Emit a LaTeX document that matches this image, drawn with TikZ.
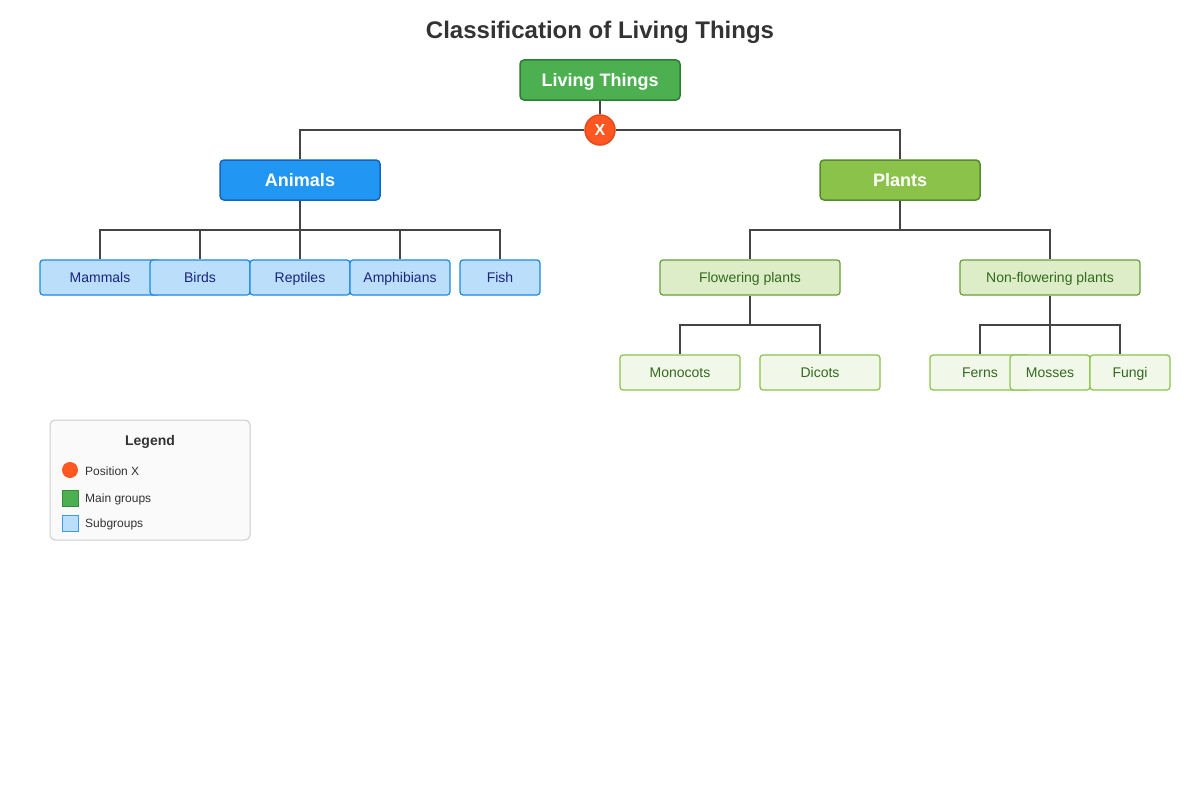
\documentclass[tikz,border=0pt]{standalone}
\usepackage{fontspec}
\setmainfont{Liberation Sans}
\definecolor{mainG}{HTML}{4CAF50}
\definecolor{mainGb}{HTML}{2E7D32}
\definecolor{anim}{HTML}{2196F3}
\definecolor{animb}{HTML}{1565C0}
\definecolor{plnt}{HTML}{8BC34A}
\definecolor{plntb}{HTML}{558B2F}
\definecolor{subB}{HTML}{BBDEFB}
\definecolor{subBb}{HTML}{1E88E5}
\definecolor{subBt}{HTML}{1A237E}
\definecolor{flw}{HTML}{DCEDC8}
\definecolor{flwb}{HTML}{689F38}
\definecolor{grt}{HTML}{33691E}
\definecolor{leaf}{HTML}{F1F8E9}
\definecolor{leafb}{HTML}{8BC34A}
\definecolor{xo}{HTML}{FF5722}
\definecolor{xob}{HTML}{E64A19}
\definecolor{conn}{HTML}{444444}
\definecolor{txt}{HTML}{333333}
\definecolor{legf}{HTML}{FAFAFA}
\definecolor{legb}{HTML}{CCCCCC}
\begin{document}
\begin{tikzpicture}[x=1pt,y=-1pt,
  box/.style={draw, rounded corners=4pt, line width=1.5pt, inner sep=0pt, minimum height=40pt, text height=12.9pt, text depth=0pt},
  rootbox/.style={box, fill=mainG, draw=mainGb, text=white, font=\fontsize{18}{22}\selectfont\bfseries, minimum width=160pt},
  animbox/.style={box, fill=anim, draw=animb, text=white, font=\fontsize{18}{22}\selectfont\bfseries, minimum width=160pt},
  plntbox/.style={box, fill=plnt, draw=plntb, text=white, font=\fontsize{18}{22}\selectfont\bfseries, minimum width=160pt},
  subbox/.style={draw, rounded corners=3pt, line width=1.2pt, inner sep=0pt, minimum height=35pt, font=\fontsize{14}{17}\selectfont, text height=10pt, text depth=0pt},
  animsub/.style={subbox, fill=subB, draw=subBb, text=subBt},
  flwsub/.style={subbox, fill=flw, draw=flwb, text=grt},
  leafsub/.style={subbox, fill=leaf, draw=leafb, text=grt},
  conn/.style={draw=conn, line width=1.5pt},
  legtext/.style={anchor=west, text=txt, font=\fontsize{12}{14}\selectfont, inner sep=0pt, text height=8.6pt, text depth=0pt}
]
\useasboundingbox (0,0) rectangle (1200,800);
\fill[white] (0,0) rectangle (1200,800);

\node[text=txt, font=\fontsize{24}{28}\selectfont\bfseries] (title) at (600,32) {Classification of Living Things};

\coordinate (ab) at (300,230);
\coordinate (pb) at (900,230);
\coordinate (fb) at (750,325);
\coordinate (nb) at (1050,325);

\node[rootbox] (root) at (600,80) {Living Things};
\node[animbox] (animals) at (300,180) {Animals};
\node[plntbox] (plants) at (900,180) {Plants};

\node[animsub, minimum width=120pt] (mammals) at (100,277.5) {Mammals};
\node[animsub, minimum width=100pt] (birds) at (200,277.5) {Birds};
\node[animsub, minimum width=100pt] (reptiles) at (300,277.5) {Reptiles};
\node[animsub, minimum width=100pt] (amph) at (400,277.5) {Amphibians};
\node[animsub, minimum width=80pt] (fish) at (500,277.5) {Fish};

\node[flwsub, minimum width=180pt] (flowering) at (750,277.5) {Flowering plants};
\node[flwsub, minimum width=180pt] (nonflowering) at (1050,277.5) {Non-flowering plants};

\node[leafsub, minimum width=120pt] (mono) at (680,372.5) {Monocots};
\node[leafsub, minimum width=120pt] (dicots) at (820,372.5) {Dicots};
\node[leafsub, minimum width=100pt] (ferns) at (980,372.5) {Ferns};
\node[leafsub, minimum width=80pt] (mosses) at (1050,372.5) {Mosses};
\node[leafsub, minimum width=80pt] (fungi) at (1130,372.5) {Fungi};

\node[circle, fill=xo, draw=xob, line width=1.5pt, minimum size=30pt, inner sep=0pt, text=white, font=\fontsize{16}{18}\selectfont\bfseries, text height=11.5pt, text depth=0pt] (x) at (600,130) {X};

\path[conn] (root.south) -- (x.north);
\path[conn] (x.west) -| (animals.north);
\path[conn] (x.east) -| (plants.north);

\path[conn] (animals.south) -- (ab);
\path[conn] (ab) -| (mammals.north);
\path[conn] (ab) -| (birds.north);
\path[conn] (ab) -- (reptiles.north);
\path[conn] (ab) -| (amph.north);
\path[conn] (ab) -| (fish.north);

\path[conn] (plants.south) -- (pb);
\path[conn] (pb) -| (flowering.north);
\path[conn] (pb) -| (nonflowering.north);

\path[conn] (flowering.south) -- (fb);
\path[conn] (fb) -| (mono.north);
\path[conn] (fb) -| (dicots.north);

\path[conn] (nonflowering.south) -- (nb);
\path[conn] (nb) -| (ferns.north);
\path[conn] (nb) -- (mosses.north);
\path[conn] (nb) -| ([xshift=-10pt]fungi.north);

% legend
\node[draw=legb, fill=legf, rounded corners=5pt, line width=1pt, minimum width=200pt, minimum height=120pt, inner sep=0pt] (legend) at (150,480) {};
\node[text=txt, font=\fontsize{14}{17}\selectfont\bfseries, text height=10pt, text depth=0pt, inner sep=0pt] (legtitle) at (150,440) {Legend};
\node[circle, fill=xo, minimum size=16pt, inner sep=0pt] (lx) at (70,470) {};
\node[legtext] (lxt) at (85,471) {Position X};
\node[fill=mainG, draw=mainGb!70!mainG, line width=1pt, minimum size=16pt, inner sep=0pt] (lm) at (70,498) {};
\node[legtext] (lmt) at (85,498) {Main groups};
\node[fill=subB, draw=subBb!80!subB, line width=1pt, minimum size=16pt, inner sep=0pt] (ls) at (70,523) {};
\node[legtext] (lst) at (85,523) {Subgroups};
\end{tikzpicture}
\end{document}
